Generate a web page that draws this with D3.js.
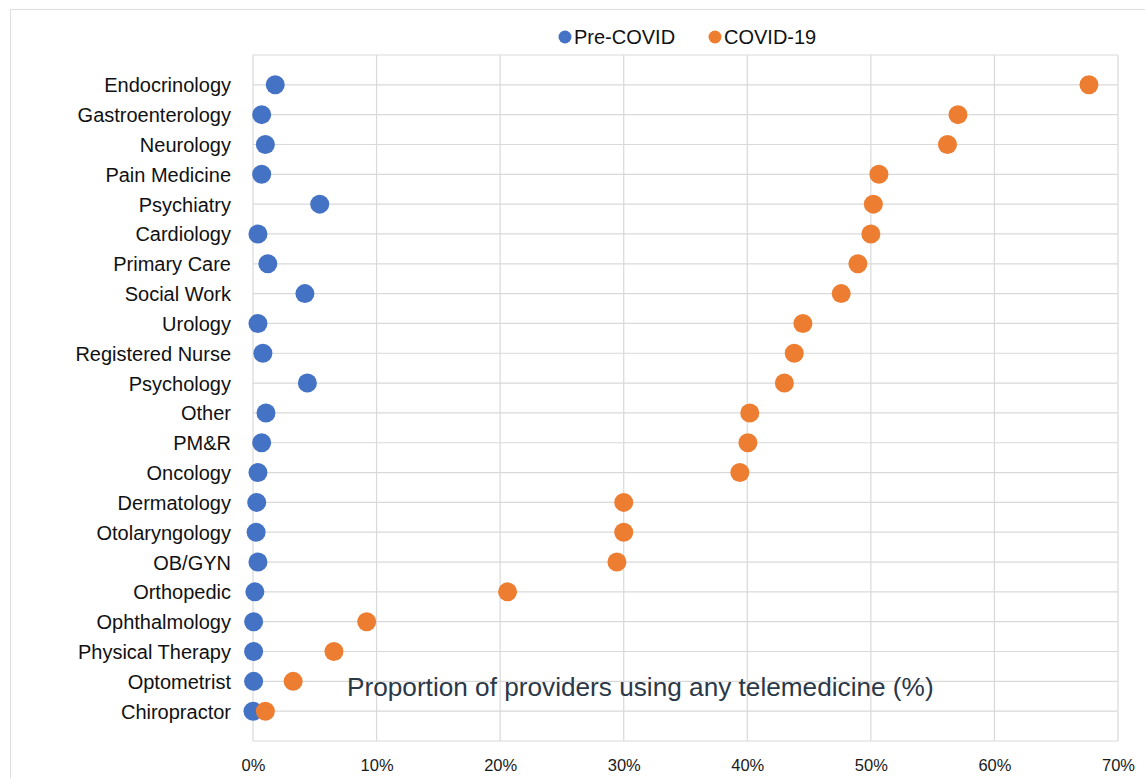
<!DOCTYPE html>
<html>
<head>
<meta charset="utf-8">
<script src="https://cdn.jsdelivr.net/npm/d3@7"></script>
<style>
  html, body { margin: 0; padding: 0; background: #fff; }
  svg { display: block; font-family: "Liberation Sans", Arial, Helvetica, sans-serif; }
</style>
</head>
<body>
<svg id="chart" width="1145" height="778"></svg>
<script>
const categories = ["Endocrinology","Gastroenterology","Neurology","Pain Medicine","Psychiatry","Cardiology","Primary Care","Social Work","Urology","Registered Nurse","Psychology","Other","PM&R","Oncology","Dermatology","Otolaryngology","OB/GYN","Orthopedic","Ophthalmology","Physical Therapy","Optometrist","Chiropractor"];
const preCovid = [1.8,0.7,1.0,0.7,5.4,0.4,1.2,4.2,0.4,0.8,4.4,1.05,0.7,0.4,0.3,0.25,0.4,0.15,0.05,0.05,0.05,0.0];
const covid19 = [67.65,57.05,56.2,50.65,50.2,50.0,48.95,47.6,44.5,43.8,43.0,40.2,40.05,39.4,30.0,30.0,29.45,20.6,9.2,6.55,3.25,1.0];
const seriesNames = ["Pre-COVID","COVID-19"];
const xTicks = [0,10,20,30,40,50,60,70];
const annotation = "Proportion of providers using any telemedicine (%)";

const colors = ["#4472C4","#ED7D31"];
const svg = d3.select("#chart");
const pLeft = 253, pRight = 1118, pTop = 55, pBottom = 741;
const x = d3.scaleLinear().domain([0,70]).range([pLeft,pRight]);
const y = d3.scalePoint().domain(categories).range([pTop,pBottom]).padding(1);

// outer frame
svg.append("rect").attr("x",10.5).attr("y",9.5).attr("width",1160).attr("height",800)
  .attr("fill","none").attr("stroke","#dedede").attr("stroke-width",1);

const grid = svg.append("g").attr("stroke","#d9d9d9").attr("stroke-width",1.2);
grid.selectAll("line.v").data(xTicks).join("line")
  .attr("x1",d=>x(d)).attr("x2",d=>x(d)).attr("y1",pTop).attr("y2",pBottom);
grid.selectAll("line.h").data(categories).join("line")
  .attr("x1",pLeft).attr("x2",pRight).attr("y1",d=>y(d)).attr("y2",d=>y(d));
grid.append("line").attr("x1",pLeft).attr("x2",pRight).attr("y1",pTop).attr("y2",pTop);
grid.append("line").attr("x1",pLeft).attr("x2",pRight).attr("y1",pBottom).attr("y2",pBottom);

// x axis tick labels
const xAxis = d3.axisBottom(x).tickValues(xTicks).tickFormat(d=>d+"%").tickSize(0).tickPadding(0);
const gx = svg.append("g").attr("transform",`translate(0,${pBottom})`).call(xAxis);
gx.select(".domain").remove();
gx.selectAll("text").attr("font-size","16.5px").attr("fill","#1a1a1a")
  .attr("font-family","'Liberation Sans', Arial, sans-serif").attr("dy","0").attr("y",30);

// category labels
svg.append("g").selectAll("text").data(categories).join("text")
  .attr("x",231).attr("y",d=>y(d)+7.5).attr("text-anchor","end")
  .attr("font-size","20px").attr("fill","#111").text(d=>d);

// annotation
svg.append("text").attr("x",347).attr("y",696).attr("font-size","26.2px")
  .attr("fill","#2b3848").text(annotation);

// dots
const series = [preCovid, covid19];
series.forEach((vals,i)=>{
  svg.append("g").selectAll("circle").data(vals).join("circle")
    .attr("cx",d=>x(d)).attr("cy",(d,j)=>y(categories[j])).attr("r",9.5)
    .attr("fill",colors[i]);
});

// legend
const legend = [{name:seriesNames[0],cx:565,tx:574},{name:seriesNames[1],cx:715,tx:724}];
legend.forEach((l,i)=>{
  svg.append("circle").attr("cx",l.cx).attr("cy",37).attr("r",6.5).attr("fill",colors[i]);
  svg.append("text").attr("x",l.tx).attr("y",44).attr("font-size","20px").attr("fill","#111").text(l.name);
});
</script>
</body>
</html>
